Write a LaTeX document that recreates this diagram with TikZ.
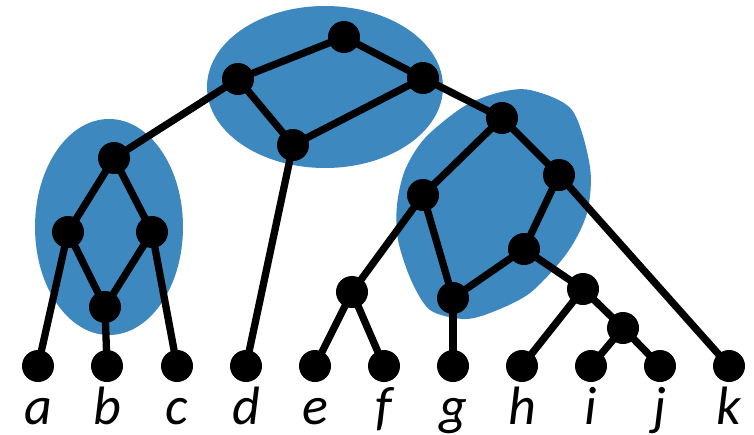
\documentclass[tikz,border=0pt]{standalone}
\usepackage{fontspec}
\setmainfont{Carlito}
\definecolor{blob}{RGB}{61,136,190}
\begin{document}
\begin{tikzpicture}[x=1pt,y=-1pt,
  dot/.style={circle,fill=black,inner sep=0pt,minimum size=32pt},
  edge/.style={line width=7.3pt},
  lbl/.style={font=\fontsize{54}{60}\selectfont\itshape,anchor=base,inner sep=0pt}]
\useasboundingbox (0,0) rectangle (754,434);
\fill[blob] (325,87) ellipse [x radius=118,y radius=81];
\fill[blob] (109,227) ellipse [x radius=74,y radius=108];
\fill[blob] plot[smooth cycle] coordinates {(530,90) (572,110) (590,167) (587,213) (567,253)
  (530,293) (490,313) (463,319) (430,310) (411,280) (398,240) (397,205) (405,170) (425,138)
  (463,107) (497,93)};
\node[dot] (r) at (344,37) {};
\node[dot] (u) at (238,79) {};
\node[dot] (v) at (423,78) {};
\node[dot] (m) at (293,145) {};
\node[dot] (p) at (114,158) {};
\node[dot] (pl) at (68,232) {};
\node[dot] (pr) at (152,232) {};
\node[dot] (pb) at (105,307) {};
\node[dot] (s) at (502,118) {};
\node[dot] (sl) at (423,195) {};
\node[dot] (sr) at (559,175) {};
\node[dot] (t) at (524,249) {};
\node[dot] (ef) at (352,292) {};
\node[dot] (gp) at (453,298) {};
\node[dot] (hij) at (583,289) {};
\node[dot] (ij) at (623,328) {};
\foreach \n/\x in {a/38,b/107,c/177,d/246,e/315,f/384,g/453,h/522,i/591,j/660,k/729} {
  \node[dot] (\n) at (\x,366) {};
  \node[lbl] (l\n) at (\x,424) {\n};
}
\foreach \s/\t in {r/u,r/v,u/m,v/m,u/p,m/d,p/pl,p/pr,pl/a,pl/pb,pr/pb,pr/c,pb/b,
  v/s,s/sl,s/sr,sl/ef,sl/gp,ef/e,ef/f,gp/g,gp/t,sr/t,sr/k,t/hij,hij/h,hij/ij,ij/i,ij/j}
  \draw[edge] (\s.center) -- (\t.center);
\end{tikzpicture}
\end{document}
